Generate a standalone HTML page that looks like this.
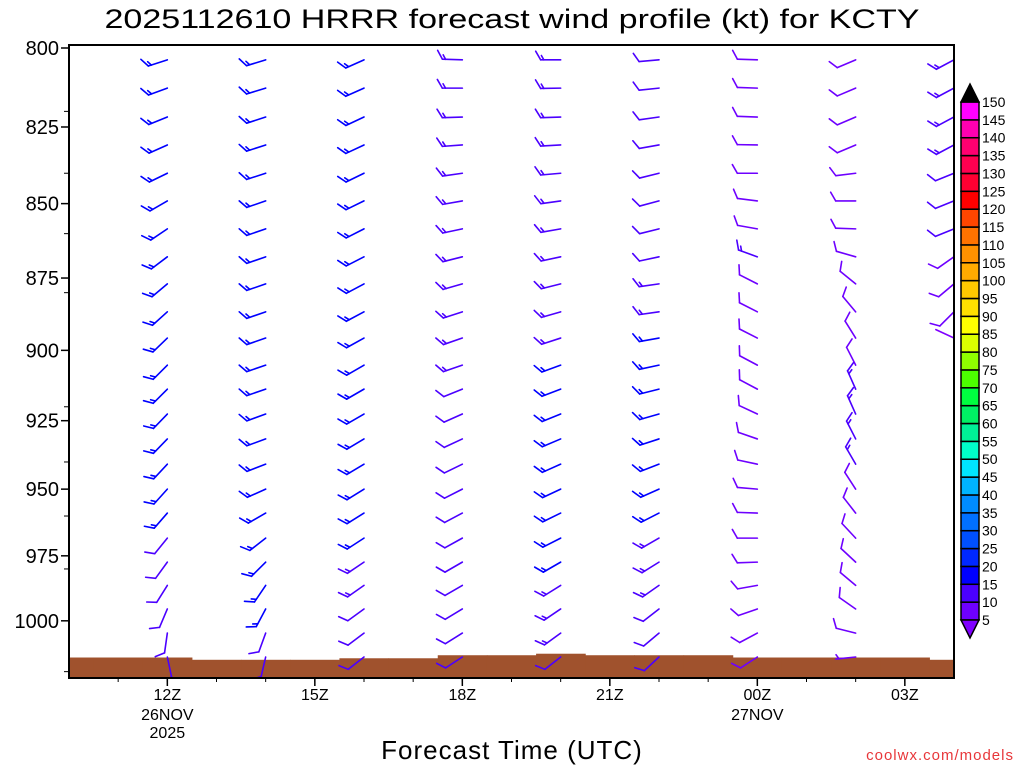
<!DOCTYPE html>
<html><head><meta charset="utf-8"><title>HRRR wind profile KCTY</title>
<style>
html,body{margin:0;padding:0;background:#fff;}
svg{display:block;font-family:"Liberation Sans","DejaVu Sans",sans-serif;}
</style></head>
<body>
<svg id="chart" width="1024" height="768" viewBox="0 0 1024 768" xmlns="http://www.w3.org/2000/svg">
  <text x="512" y="28" text-anchor="middle" font-size="27" textLength="815" lengthAdjust="spacingAndGlyphs" fill="#000">2025112610 HRRR forecast wind profile (kt) for KCTY</text>
  <defs><clipPath id="plotclip"><rect x="69" y="45" width="885" height="633"/></clipPath></defs>
  <g id="ground" clip-path="url(#plotclip)"></g>
  <g id="barbs" clip-path="url(#plotclip)"></g>
  <rect x="69" y="45" width="885" height="633" fill="none" stroke="#000" stroke-width="2"/>
  <g id="yaxis"></g>
  <g id="xaxis"></g>
  <g id="cbar"></g>
  <text x="512" y="759" text-anchor="middle" font-size="26" letter-spacing="1" fill="#000">Forecast Time (UTC)</text>
  <text x="1014" y="760" text-anchor="end" font-size="15" letter-spacing="1" fill="#e8373a">coolwx.com/models</text>
</svg>
<script>
// ---- data ----
const hours = [12, 14, 16, 18, 20, 22, 24, 26, 28];
const levels = [803.7, 812.6, 821.8, 830.8, 840.0, 849.1, 858.4, 867.8, 877.0, 886.6, 895.7, 905.2, 913.7, 922.6, 931.6, 940.8, 950.0, 958.9, 968.3, 977.4, 986.3, 995.4, 1004.8, 1014.2];
const dir12Z = [252,250,248,246,244,240,236,233,230,228,226,225,225,224,224,223,222,221,219,216,212,203,188,168];
const spd12Z = [16,16,16,16,16,16,16,16,16,16,16,16,16,16,16,16,16,16,11,11,11,11,11,11];
const dir14Z = [253,253,252,252,252,251,251,251,251,251,251,251,251,250,250,249,246,240,232,225,214,208,200,193];
const spd14Z = [16,16,16,16,16,16,16,16,16,16,16,16,16,16,16,16,16,16,16,16,16,16,11,11];
const dir16Z = [246,246,245,245,244,244,243,243,242,242,241,240,240,240,239,239,238,238,237,236,235,234,233,232];
const spd16Z = [16,16,16,16,16,16,16,16,16,16,16,16,16,16,16,16,16,16,16,13,13,11,11,11];
const dir18Z = [272,270,268,266,262,260,258,256,254,252,251,251,248,246,245,244,243,242,241,240,240,239,238,237];
const spd18Z = [13,13,13,13,13,13,13,13,13,13,13,13,11,11,11,11,11,11,11,11,11,11,11,11];
const dir20Z = [270,269,268,267,265,262,260,258,256,254,252,250,249,248,247,246,245,244,243,240,238,236,234,232];
const spd20Z = [13,13,13,13,13,13,13,13,13,13,13,16,16,16,16,16,16,16,16,16,13,13,13,11];
const dir22Z = [265,264,262,260,256,255,256,258,262,262,260,258,256,254,252,249,246,243,240,238,235,232,230,227];
const spd22Z = [11,11,11,11,11,11,11,11,13,13,16,16,16,16,16,16,16,16,13,13,13,11,11,11];
const dir00Z = [272,272,272,271,270,277,280,290,297,297,297,298,298,295,289,282,275,272,270,268,260,251,242,237];
const spd00Z = [9,9,9,9,9,9,9,13,9,9,9,9,9,9,9,9,9,9,9,9,9,9,9,9];
const dir02Z = [247,247,247,247,263,270,272,286,309,320,328,333,336,336,333,330,327,322,317,313,310,305,284,264];
const spd02Z = [9,9,9,9,9,9,9,9,9,9,9,9,13,13,13,13,9,9,9,9,9,9,8,5];
const dir04Z = [242,242,242,242,248,248,248,235,230,225,295,null,null,null,null,null,null,null,null,null,null,null,null,null];
const spd04Z = [13,13,13,13,10,10,10,8,8,8,2,null,null,null,null,null,null,null,null,null,null,null,null,null];
const dirs = [dir12Z, dir14Z, dir16Z, dir18Z, dir20Z, dir22Z, dir00Z, dir02Z, dir04Z];
const spds = [spd12Z, spd14Z, spd16Z, spd18Z, spd20Z, spd22Z, spd00Z, spd02Z, spd04Z];
const sfcHours = [10,11,12,13,14,15,16,17,18,19,20,21,22,23,24,25,26,27,28];
const sfcPres = [1014.4,1014.4,1014.4,1015.3,1015.3,1015.3,1014.7,1014.7,1013.5,1013.5,1012.9,1013.5,1013.5,1013.5,1014.4,1014.4,1014.4,1014.4,1015.3];
const yTicks = [800, 825, 850, 875, 900, 925, 950, 975, 1000];
const yMinor = [820, 840, 860, 880, 920, 940, 960, 980, 1020];
const xTickHours = [12, 15, 18, 21, 24, 27];
const xTickLabels = ["12Z", "15Z", "18Z", "21Z", "00Z", "03Z"];
const xDateLabels = [["26NOV","2025"], [], [], [], ["27NOV"], []];
const legendLevels = [5,10,15,20,25,30,35,40,45,50,55,60,65,70,75,80,85,90,95,100,105,110,115,120,125,130,135,140,145,150];
const legendColors = ["#6e00ff","#4b00ff","#0000ff","#0028ff","#0050ff","#0070ff","#008cff","#00b4ff","#00e6ff","#00ffc8","#00f096","#00f064","#00ff40","#4cff00","#90ff00","#dcff00","#ffff00","#ffe000","#ffc800","#ffaa00","#ff9100","#ff7300","#ff4600","#ff0000","#ff0032","#ff0050","#ff0070","#ff00b0","#ff00ff"];

// ---- axes ----
const NS = "http://www.w3.org/2000/svg";
const X0 = 69, X1 = 954, H0 = 10, H1 = 28;
const PTOP = 800, YTOP = 48, K = 2567;
function xScale(h){ return X0 + (h - H0) * (X1 - X0) / (H1 - H0); }
function yScale(p){ return YTOP + K * Math.log(p / PTOP); }
function mk(tag, attrs, parent){ const e = document.createElementNS(NS, tag); for (const k in attrs) e.setAttribute(k, attrs[k]); parent.appendChild(e); return e; }
function colorFor(s){
  if (s < 5) return "#8000ff";
  let i = Math.floor((s - 5) / 5);
  if (i >= legendColors.length) return "#000";
  return legendColors[i];
}

// ground
const gGround = document.getElementById("ground");
sfcHours.forEach((h, i) => {
  const y = yScale(sfcPres[i]);
  const r = mk("rect", {x: xScale(h - 0.5), y: y, width: xScale(h + 0.5) - xScale(h - 0.5) + 0.5, height: 700 - y, fill: "#a0522d"}, gGround);
  
  
});

// barbs
const gB = document.getElementById("barbs");
function drawBarb(cx, cy, d, s, color){
  const g = mk("g", {stroke: color, "stroke-width": 1.6, fill: "none", "stroke-linecap": "round"}, gB);
  
  
  const rad = d * Math.PI / 180;
  const ux = Math.sin(rad), uy = -Math.cos(rad);
  const L = 20;
  const ex = cx + ux * L, ey = cy + uy * L;
  mk("line", {x1: cx, y1: cy, x2: ex, y2: ey}, g);
  const th = Math.atan2(uy, ux) + Math.PI / 3;
  const fx = Math.cos(th), fy = Math.sin(th);
  let r = Math.round(s / 5) * 5;
  let pos = 0;
  const step = 3.2;
  while (r >= 50) {
    const ax = ex - ux * pos, ay = ey - uy * pos;
    const bx = ex - ux * (pos + 5), by = ey - uy * (pos + 5);
    mk("polygon", {points: `${ax},${ay} ${ax + fx * 10},${ay + fy * 10} ${bx},${by}`, fill: color}, g);
    pos += 6; r -= 50;
  }
  while (r >= 10) {
    const ax = ex - ux * pos, ay = ey - uy * pos;
    mk("line", {x1: ax, y1: ay, x2: ax + fx * 10, y2: ay + fy * 10}, g);
    pos += step; r -= 10;
  }
  if (r >= 5) {
    if (pos === 0) pos = step;
    const ax = ex - ux * pos, ay = ey - uy * pos;
    mk("line", {x1: ax, y1: ay, x2: ax + fx * 5, y2: ay + fy * 5}, g);
  }
}
hours.forEach((h, ci) => {
  levels.forEach((p, li) => {
    const d = dirs[ci][li], s = spds[ci][li];
    if (d === null || s === null) return;
    drawBarb(xScale(h), yScale(p), d, s, colorFor(s));
  });
});

// y axis
const gY = document.getElementById("yaxis");
yTicks.forEach(p => {
  const y = yScale(p);
  const t = mk("line", {x1: 61, y1: y, x2: 69, y2: y, stroke: "#000", "stroke-width": 1.5}, gY);
  
  
  const lb = mk("text", {x: 59, y: y + 7, "text-anchor": "end", "font-size": 20, fill: "#000"}, gY);
  lb.textContent = String(p);
  
  
});
yMinor.forEach(p => {
  const y = yScale(p);
  if (y > 678) return;
  const t = mk("line", {x1: 64, y1: y, x2: 69, y2: y, stroke: "#000", "stroke-width": 1}, gY);
  
  
});

// x axis
const gX = document.getElementById("xaxis");
for (let h = H0 + 1; h < H1; h++) {
  const x = xScale(h);
  const t = mk("line", {x1: x, y1: 678, x2: x, y2: 682, stroke: "#000", "stroke-width": 1}, gX);
  
  
}
xTickHours.forEach((h, i) => {
  const x = xScale(h);
  const t = mk("line", {x1: x, y1: 678, x2: x, y2: 686, stroke: "#000", "stroke-width": 1.5}, gX);
  
  
  const lb = mk("text", {x: x, y: 700, "text-anchor": "middle", "font-size": 16, fill: "#000"}, gX);
  lb.textContent = xTickLabels[i];
  
  
  xDateLabels[i].forEach((s, j) => {
    const dl = mk("text", {x: x, y: 720 + j * 18, "text-anchor": "middle", "font-size": 16, fill: "#000"}, gX);
    dl.textContent = s;
    
    
  });
});

// color legend
const gC = document.getElementById("cbar");
const CB_X = 961, CB_W = 18, CB_TOP = 102, CB_BOT = 620;
const stepY = (CB_BOT - CB_TOP) / (legendLevels.length - 1);
function cbY(v){ return CB_BOT - legendLevels.indexOf(v) * stepY; }
for (let i = 0; i < legendLevels.length - 1; i++) {
  const yTop = cbY(legendLevels[i + 1]);
  const r = mk("rect", {x: CB_X, y: yTop, width: CB_W, height: stepY, fill: legendColors[i], stroke: "#000", "stroke-width": 1.5}, gC);
  
  
}
const triTop = mk("polygon", {points: `${CB_X},${CB_TOP} ${CB_X + CB_W},${CB_TOP} ${CB_X + CB_W / 2},${CB_TOP - 18}`, fill: "#000", stroke: "#000", "stroke-width": 1.5}, gC);


const triBot = mk("polygon", {points: `${CB_X},${CB_BOT} ${CB_X + CB_W},${CB_BOT} ${CB_X + CB_W / 2},${CB_BOT + 18}`, fill: "#8000ff", stroke: "#000", "stroke-width": 1.5}, gC);


legendLevels.forEach(v => {
  const lb = mk("text", {x: 982, y: cbY(v) + 5, "font-size": 14, fill: "#000"}, gC);
  lb.textContent = String(v);
  
  
});
</script>
</body></html>
